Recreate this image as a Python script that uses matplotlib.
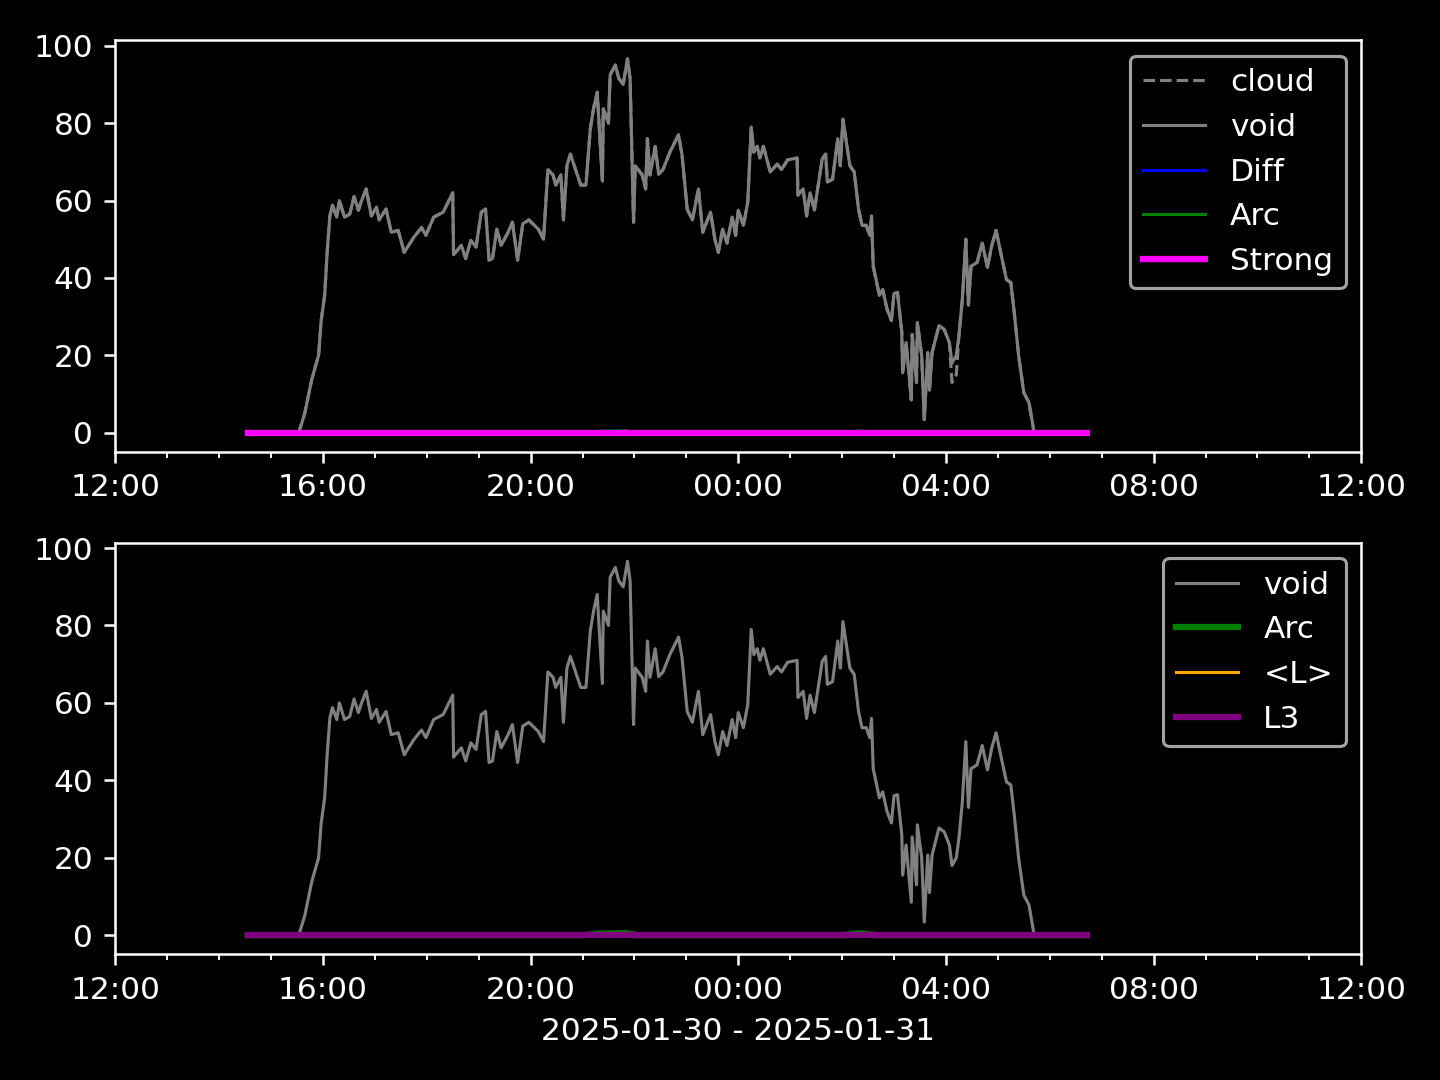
#plot sky quality / cloud over the night
import pandas as pd
import matplotlib.pyplot as plt
import matplotlib.dates as mdates

# void curve (time, value)
void_times = ['2025-01-30 14:33', '2025-01-30 15:32', '2025-01-30 15:39', '2025-01-30 15:47',
              '2025-01-30 15:55', '2025-01-30 15:58', '2025-01-30 16:02', '2025-01-30 16:05',
              '2025-01-30 16:08', '2025-01-30 16:11', '2025-01-30 16:16', '2025-01-30 16:19',
              '2025-01-30 16:25', '2025-01-30 16:31', '2025-01-30 16:36', '2025-01-30 16:41',
              '2025-01-30 16:44', '2025-01-30 16:50', '2025-01-30 16:56', '2025-01-30 17:02',
              '2025-01-30 17:05', '2025-01-30 17:13', '2025-01-30 17:19', '2025-01-30 17:27',
              '2025-01-30 17:34', '2025-01-30 17:45', '2025-01-30 17:54', '2025-01-30 17:59',
              '2025-01-30 18:08', '2025-01-30 18:19', '2025-01-30 18:30', '2025-01-30 18:31',
              '2025-01-30 18:40', '2025-01-30 18:45', '2025-01-30 18:51', '2025-01-30 18:57',
              '2025-01-30 19:03', '2025-01-30 19:08', '2025-01-30 19:12', '2025-01-30 19:16',
              '2025-01-30 19:21', '2025-01-30 19:26', '2025-01-30 19:34', '2025-01-30 19:39',
              '2025-01-30 19:45', '2025-01-30 19:51', '2025-01-30 19:58', '2025-01-30 20:09',
              '2025-01-30 20:15', '2025-01-30 20:20', '2025-01-30 20:26', '2025-01-30 20:29',
              '2025-01-30 20:35', '2025-01-30 20:38', '2025-01-30 20:42', '2025-01-30 20:46',
              '2025-01-30 20:58', '2025-01-30 21:04', '2025-01-30 21:09', '2025-01-30 21:13',
              '2025-01-30 21:17', '2025-01-30 21:21', '2025-01-30 21:23', '2025-01-30 21:24',
              '2025-01-30 21:30', '2025-01-30 21:32', '2025-01-30 21:38', '2025-01-30 21:42',
              '2025-01-30 21:47', '2025-01-30 21:52', '2025-01-30 21:55', '2025-01-30 21:59',
              '2025-01-30 22:01', '2025-01-30 22:09', '2025-01-30 22:13', '2025-01-30 22:15',
              '2025-01-30 22:18', '2025-01-30 22:24', '2025-01-30 22:28', '2025-01-30 22:33',
              '2025-01-30 22:41', '2025-01-30 22:51', '2025-01-30 22:55', '2025-01-30 23:01',
              '2025-01-30 23:07', '2025-01-30 23:14', '2025-01-30 23:19', '2025-01-30 23:28',
              '2025-01-30 23:33', '2025-01-30 23:37', '2025-01-30 23:42', '2025-01-30 23:47',
              '2025-01-30 23:53', '2025-01-30 23:57', '2025-01-31 00:00', '2025-01-31 00:06',
              '2025-01-31 00:11', '2025-01-31 00:15', '2025-01-31 00:18', '2025-01-31 00:22',
              '2025-01-31 00:25', '2025-01-31 00:29', '2025-01-31 00:37', '2025-01-31 00:45',
              '2025-01-31 00:50', '2025-01-31 00:57', '2025-01-31 01:08', '2025-01-31 01:09',
              '2025-01-31 01:15', '2025-01-31 01:19', '2025-01-31 01:23', '2025-01-31 01:28',
              '2025-01-31 01:37', '2025-01-31 01:41', '2025-01-31 01:43', '2025-01-31 01:49',
              '2025-01-31 01:55', '2025-01-31 01:58', '2025-01-31 02:01', '2025-01-31 02:05',
              '2025-01-31 02:09', '2025-01-31 02:14', '2025-01-31 02:19', '2025-01-31 02:23',
              '2025-01-31 02:28', '2025-01-31 02:32', '2025-01-31 02:34', '2025-01-31 02:36',
              '2025-01-31 02:40', '2025-01-31 02:43', '2025-01-31 02:47', '2025-01-31 02:52',
              '2025-01-31 02:57', '2025-01-31 03:00', '2025-01-31 03:04', '2025-01-31 03:09',
              '2025-01-31 03:10', '2025-01-31 03:14', '2025-01-31 03:20', '2025-01-31 03:21',
              '2025-01-31 03:26', '2025-01-31 03:27', '2025-01-31 03:32', '2025-01-31 03:35',
              '2025-01-31 03:39', '2025-01-31 03:41', '2025-01-31 03:44', '2025-01-31 03:52',
              '2025-01-31 03:58', '2025-01-31 04:04', '2025-01-31 04:07', '2025-01-31 04:12',
              '2025-01-31 04:15', '2025-01-31 04:19', '2025-01-31 04:23', '2025-01-31 04:26',
              '2025-01-31 04:29', '2025-01-31 04:36', '2025-01-31 04:42', '2025-01-31 04:48',
              '2025-01-31 04:53', '2025-01-31 04:58', '2025-01-31 05:04', '2025-01-31 05:10',
              '2025-01-31 05:15', '2025-01-31 05:19', '2025-01-31 05:24', '2025-01-31 05:30',
              '2025-01-31 05:36', '2025-01-31 05:42', '2025-01-31 06:43']
void_values = [0, 0, 5, 13.7,
               20, 29, 35.5, 47,
               56, 58.8, 55.7, 60,
               55.7, 56.5, 61, 57.5,
               59.6, 63, 56, 58.3,
               55, 57.8, 51.8, 52.3,
               46.6, 50.5, 53, 51,
               55.7, 57, 62, 46,
               48.4, 45, 49.7, 48,
               57, 57.8, 44.6, 45,
               52.6, 48.4, 51.8, 54.4,
               44.6, 54, 55, 52.6,
               50, 68, 66.6, 64,
               66.6, 55, 69, 72,
               64, 64, 78.5, 84,
               88, 72.5, 65, 83.7,
               80, 92.5, 95, 91.5,
               90, 96.6, 91.5, 54.4,
               69, 66.6, 63, 76,
               66.6, 74, 66.8, 68,
               72.5, 77, 71.8, 57.8,
               55, 63, 51.8, 57,
               50, 46.6, 52.6, 49,
               55.7, 51, 57.5, 53.6,
               59.6, 79, 72.5, 74,
               71, 74, 67.4, 69.4,
               68, 70.5, 71, 61.4,
               63, 56, 62, 57.5,
               70.7, 72, 64.8, 65.5,
               76, 69, 81, 75,
               69, 67.4, 57.8, 53.6,
               53.6, 51, 56, 43,
               38.8, 35.5, 37, 31.9,
               29, 36, 36.3, 26,
               15.5, 23.3, 8.5, 25.4,
               13, 28.5, 20, 3.4,
               20.7, 11, 20.7, 27.7,
               26.7, 23.3, 18, 20,
               25, 34.5, 50, 33,
               43, 44, 49, 42.7,
               48.4, 52.3, 45.8, 39.6,
               38.8, 31, 20, 10.4,
               7.8, 0, 0]

# cloud follows void except a short dip just after 04:00
cloud_dip_times = ['2025-01-31 04:07', '2025-01-31 04:12']
cloud_dip_values = [13, 15]

# zero lines, small blips only
start_end = ['2025-01-30 14:33', '2025-01-31 06:43']
diff_times = ['2025-01-30 14:33', '2025-01-30 21:50', '2025-01-30 21:52', '2025-01-30 21:54', '2025-01-31 06:43']
diff_values = [0, 0, 0.6, 0, 0]
arc_times = ['2025-01-30 14:33', '2025-01-30 21:00', '2025-01-30 21:20', '2025-01-30 21:50',
             '2025-01-30 22:05', '2025-01-31 02:00', '2025-01-31 02:20', '2025-01-31 02:40',
             '2025-01-31 06:43']
arc_values = [0, 0, 0.4, 0.5, 0, 0, 0.5, 0, 0]
flat_values = [0, 0]

void = pd.Series(void_values, index=pd.to_datetime(void_times))
cloud = void.copy()
for t, v in zip(pd.to_datetime(cloud_dip_times), cloud_dip_values):
    cloud[t] = v
se = pd.to_datetime(start_end)
diff_t = pd.to_datetime(diff_times)
arc_t = pd.to_datetime(arc_times)

plt.style.use('dark_background')
fig, (ax1, ax2) = plt.subplots(2, 1, figsize=(6.4, 4.8), dpi=225)

ax1.plot(cloud.index, cloud.values, color='gray', ls='--', lw=1, label='cloud')
ax1.plot(void.index, void.values, color='gray', lw=1, label='void')
ax1.plot(diff_t, diff_values, color='blue', lw=1, label='Diff')
ax1.plot(arc_t, arc_values, color='green', lw=1, label='Arc')
ax1.plot(se, flat_values, color='magenta', lw=2, label='Strong')
ax1.legend(loc='upper right')

ax2.plot(void.index, void.values, color='gray', lw=1, label='void')
ax2.plot(arc_t, arc_values, color='green', lw=2, label='Arc')
ax2.plot(se, flat_values, color='orange', lw=1, label='<L>')
ax2.plot(se, flat_values, color='purple', lw=2, label='L3')
ax2.legend(loc='upper right')
ax2.set_xlabel('2025-01-30 - 2025-01-31')

for ax in (ax1, ax2):
    ax.set_xlim(pd.Timestamp('2025-01-30 12:00'), pd.Timestamp('2025-01-31 12:00'))
    ax.xaxis.set_major_locator(mdates.HourLocator(byhour=[0, 4, 8, 12, 16, 20]))
    ax.xaxis.set_minor_locator(mdates.HourLocator())
    ax.xaxis.set_major_formatter(mdates.DateFormatter('%H:%M'))

plt.tight_layout()
plt.savefig('out.png')
